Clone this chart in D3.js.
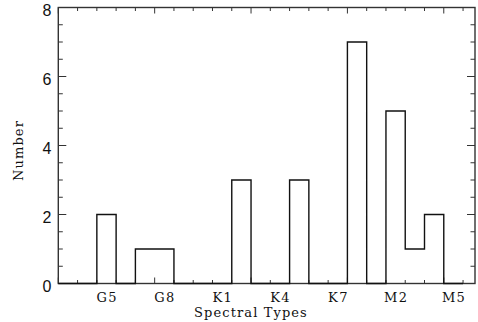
<!DOCTYPE html>
<html>
<head>
<meta charset="utf-8">
<script src="https://cdn.jsdelivr.net/npm/d3@7"></script>
<style>
  body { margin: 0; background: #fff; }
</style>
</head>
<body>
<script>
// counts per spectral-subtype bin, bin i spans [i, i+1] on the x scale
var binCounts = [0, 0, 2, 0, 1, 1, 0, 0, 0, 3, 0, 0, 3, 0, 0, 7, 0, 5, 1, 2, 0];
var typeLabels = ["G5", "G8", "K1", "K4", "K7", "M2", "M5"];
var typePositions = [2.5, 5.5, 8.5, 11.5, 14.5, 17.5, 20.5];
var yTicks = [0, 2, 4, 6, 8];

const w = 478, h = 322;
const pLeft = 58.3, pRight = 475, pTop = 7.5, pBottom = 283.5;

const svg = d3.select("body").append("svg")
    .attr("width", w)
    .attr("height", h);

const x = d3.scaleLinear().domain([0, 21.62]).range([pLeft, pRight]);
const y = d3.scaleLinear().domain([0, 8]).range([pBottom, pTop]);

const axisCol = "#333";

// frame
svg.append("rect")
    .attr("x", pLeft).attr("y", pTop)
    .attr("width", pRight - pLeft).attr("height", pBottom - pTop)
    .attr("fill", "none").attr("stroke", axisCol).attr("stroke-width", 1.4);

// x ticks (bottom and top): minor every 1, major every 5
const xt = d3.range(0, 22, 1);
svg.selectAll("line.xb").data(xt).enter().append("line")
    .attr("x1", d => x(d)).attr("x2", d => x(d))
    .attr("y1", pBottom).attr("y2", d => pBottom - (d % 5 === 0 ? 6 : 3.5))
    .attr("stroke", axisCol).attr("stroke-width", 1);
svg.selectAll("line.xt").data(xt).enter().append("line")
    .attr("x1", d => x(d)).attr("x2", d => x(d))
    .attr("y1", pTop).attr("y2", d => pTop + (d % 5 === 0 ? 6 : 3.5))
    .attr("stroke", axisCol).attr("stroke-width", 1);

// y ticks (left and right): minor every 0.5, major every 2
const yt = d3.range(0, 8.01, 0.5);
svg.selectAll("line.yl").data(yt).enter().append("line")
    .attr("y1", d => y(d)).attr("y2", d => y(d))
    .attr("x1", pLeft).attr("x2", d => pLeft + (d % 2 === 0 ? 8 : 4.5))
    .attr("stroke", axisCol).attr("stroke-width", 1);
svg.selectAll("line.yr").data(yt).enter().append("line")
    .attr("y1", d => y(d)).attr("y2", d => y(d))
    .attr("x1", pRight).attr("x2", d => pRight - (d % 2 === 0 ? 8 : 4.5))
    .attr("stroke", axisCol).attr("stroke-width", 1);

// y tick labels
svg.selectAll("text.yl").data(yTicks).enter().append("text")
    .attr("x", 51.5).attr("y", d => y(d) + 8)
    .attr("text-anchor", "end")
    .attr("font-family", "Liberation Sans, sans-serif")
    .attr("font-size", "16px")
    .attr("fill", "#111")
    .text(d => d);

// x tick labels
svg.selectAll("text.xl").data(typeLabels).enter().append("text")
    .attr("x", (d, i) => x(typePositions[i]) + 0.7)
    .attr("y", 301.5)
    .attr("text-anchor", "middle")
    .attr("font-family", "DejaVu Serif, serif")
    .attr("font-size", "13px")
    .attr("letter-spacing", "1.4px")
    .attr("fill", "#111")
    .text(d => d);

// axis titles
svg.append("text")
    .attr("x", 251).attr("y", 317)
    .attr("text-anchor", "middle")
    .attr("font-family", "DejaVu Serif, serif")
    .attr("font-size", "13px")
    .attr("letter-spacing", "1.1px")
    .attr("fill", "#111")
    .text("Spectral Types");
svg.append("text")
    .attr("transform", "translate(23,150.5) rotate(-90)")
    .attr("text-anchor", "middle")
    .attr("font-family", "DejaVu Serif, serif")
    .attr("font-size", "13px")
    .attr("letter-spacing", "1.1px")
    .attr("fill", "#111")
    .text("Number");

// step histogram
const pts = binCounts.map((c, i) => [i, c]);
pts.push([binCounts.length, 0]);
const line = d3.line()
    .x(d => x(d[0]))
    .y(d => y(d[1]))
    .curve(d3.curveStepAfter);
svg.append("path")
    .attr("d", line(pts))
    .attr("fill", "none")
    .attr("stroke", "#111")
    .attr("stroke-width", 1.4);
</script>
</body>
</html>
